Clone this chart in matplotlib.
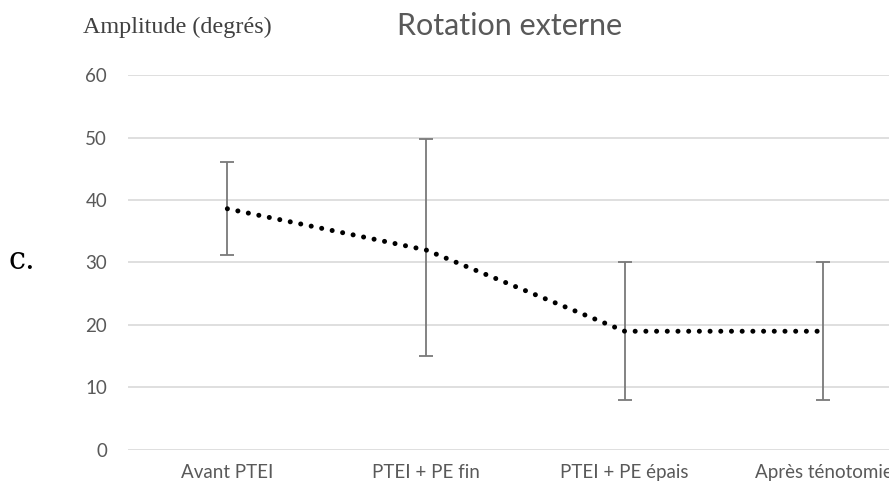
import numpy as np
import matplotlib
matplotlib.use("Agg")
import matplotlib.pyplot as plt

# Données
categories = ["Avant PTEI", "PTEI + PE fin", "PTEI + PE épais", "Après ténotomie"]
moyennes = [38.6, 32.0, 19.0, 19.0]
err_bas = [31.2, 15.0, 8.0, 8.0]
err_haut = [46.1, 49.7, 30.0, 30.0]
y_ticks = [0, 10, 20, 30, 40, 50, 60]

fig = plt.figure(figsize=(8.89, 4.88), dpi=100)
ax = fig.add_axes([0.144, 0.0779, 0.856, 0.7684])

x = np.arange(len(categories))
m = np.array(moyennes)
yerr = [m - np.array(err_bas), np.array(err_haut) - m]

# Barres d'erreur
ax.errorbar(x, m, yerr=yerr, fmt="none", ecolor="#7a7a7a",
            elinewidth=1.3, capsize=5, capthick=1.3, zorder=2)

# Ligne pointillée
ax.plot(x, m, color="black", linewidth=3.6,
        linestyle=(0, (0.01, 2.13)), dash_capstyle="round", zorder=3)

ax.set_xlim(-0.5, 3.33)
ax.set_ylim(0, 60)
ax.set_yticks(y_ticks)
ax.set_xticks(x)
ax.set_xticklabels(categories)
ax.grid(axis="y", color="#d9d9d9", linewidth=1.2)
ax.set_axisbelow(True)
for s in ax.spines.values():
    s.set_visible(False)
ax.tick_params(length=0, labelsize=13.5, colors="#595959", labelfontfamily="Lato")
ax.tick_params(axis="y", pad=15)
ax.tick_params(axis="x", pad=10)
for lab in ax.get_xticklabels():
    lab.set_clip_on(False)

fig.text(0.573, 0.928, "Rotation externe", ha="center", va="baseline",
         fontsize=22, color="#595959", family="Lato")
fig.text(0.093, 0.932, "Amplitude (degrés)", ha="left", va="baseline",
         fontsize=17.4, color="#404040", family="Liberation Serif")
fig.text(0.010, 0.449, "c.", ha="left", va="baseline",
         fontsize=22, color="black", family="DejaVu Serif")

fig.savefig("out.png", dpi=100)
